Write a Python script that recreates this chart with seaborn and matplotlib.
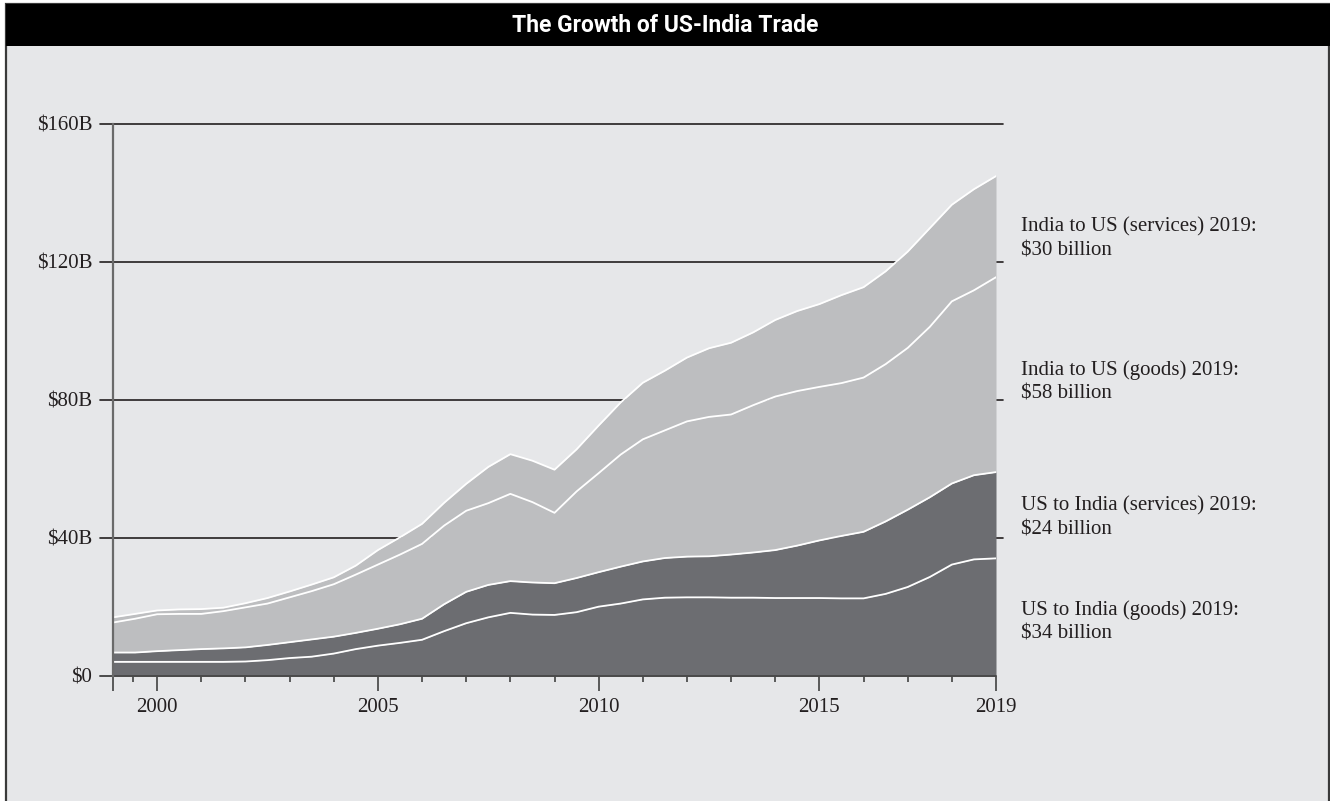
import numpy as np
import pandas as pd
import matplotlib
matplotlib.use("Agg")
import matplotlib.pyplot as plt
from matplotlib.patches import Rectangle
from matplotlib.ticker import FixedLocator
import seaborn as sns

# ---------------- data (billions of US$) ----------------
years = [1999.0, 1999.5, 2000.0, 2000.5, 2001.0, 2001.5, 2002.0, 2002.5, 2003.0, 2003.5,
         2004.0, 2004.5, 2005.0, 2005.5, 2006.0, 2006.5, 2007.0, 2007.5, 2008.0, 2008.5,
         2009.0, 2009.5, 2010.0, 2010.5, 2011.0, 2011.5, 2012.0, 2012.5, 2013.0, 2013.5,
         2014.0, 2014.5, 2015.0, 2015.5, 2016.0, 2016.5, 2017.0, 2017.5, 2018.0, 2018.5,
         2019.0]

us_to_india_goods = [4.1, 4.1, 4.1, 4.1, 4.1, 4.1, 4.2, 4.6, 5.2, 5.6,
                     6.5, 7.8, 8.8, 9.6, 10.5, 13.0, 15.3, 17.0, 18.3, 17.8,
                     17.7, 18.5, 20.1, 21.0, 22.2, 22.7, 22.8, 22.8, 22.7, 22.7,
                     22.6, 22.6, 22.6, 22.5, 22.5, 23.8, 25.8, 28.7, 32.3, 33.8,
                     34.1]

us_to_india_services = [2.7, 2.7, 3.1, 3.4, 3.7, 3.9, 4.1, 4.4, 4.6, 5.0,
                        4.9, 4.7, 4.9, 5.4, 6.1, 7.8, 9.1, 9.4, 9.2, 9.3,
                        9.2, 9.9, 10.0, 10.7, 11.0, 11.5, 11.8, 11.9, 12.5, 13.1,
                        13.9, 15.2, 16.7, 18.1, 19.3, 21.0, 22.4, 23.1, 23.5, 24.4,
                        25.0]

india_to_us_goods = [8.7, 9.8, 10.7, 10.5, 10.2, 10.8, 11.6, 12.0, 13.0, 14.0,
                     15.2, 16.9, 18.6, 20.2, 21.7, 22.8, 23.5, 23.7, 25.3, 23.3,
                     20.4, 25.1, 28.7, 32.5, 35.4, 37.0, 39.2, 40.4, 40.6, 42.7,
                     44.5, 44.8, 44.5, 44.3, 44.7, 45.6, 46.9, 49.4, 52.8, 53.6,
                     56.5]

india_to_us_services = [1.5, 1.4, 1.1, 1.3, 1.4, 1.0, 1.2, 1.6, 1.7, 1.9,
                        2.0, 2.6, 4.2, 5.0, 5.8, 6.6, 7.8, 10.5, 11.5, 12.0,
                        12.5, 12.2, 13.8, 15.1, 16.4, 17.3, 18.5, 19.9, 20.8, 21.1,
                        22.2, 23.2, 24.0, 25.5, 26.2, 26.9, 27.9, 28.6, 28.0, 29.3,
                        29.3]

series_labels = ["US to India (goods) 2019:\n$34 billion",
                 "US to India (services) 2019:\n$24 billion",
                 "India to US (goods) 2019:\n$58 billion",
                 "India to US (services) 2019:\n$30 billion"]

y_ticks = [0, 40, 80, 120, 160]
y_tick_labels = ["$0", "$40B", "$80B", "$120B", "$160B"]
x_major = [1999, 2000, 2005, 2010, 2015, 2019]
x_major_labels = ["", "2000", "2005", "2010", "2015", "2019"]
x_minor = [1999.45, 2001, 2002, 2003, 2004, 2006, 2007, 2008, 2009, 2011, 2012,
           2013, 2014, 2016, 2017, 2018]
title = "The Growth of US-India Trade"

# ---------------- style ----------------
BG = "#e6e7e9"
DARK = "#6c6d71"
LIGHT = "#bdbec0"
INK = "#231f20"

sns.set_style("white")
plt.rcParams["font.family"] = ["Liberation Serif", "DejaVu Serif"]

W, H = 1330, 801
fig = plt.figure(figsize=(W / 100, H / 100), dpi=100, facecolor="white")

# panel background with frame
fig.patches.append(Rectangle((6 / W, -0.01), 1 - 6 / W - 1.5 / W, 1.01 - 4 / H,
                             transform=fig.transFigure, facecolor=BG,
                             edgecolor="#3a3a3a", linewidth=1.6, zorder=-2))
# title bar
fig.patches.append(Rectangle((6 / W, 1 - 46 / H), 1 - 6 / W, 42 / H,
                             transform=fig.transFigure, facecolor="black",
                             edgecolor="none", zorder=-1))
fig.text(0.5, 1 - 25 / H, title, color="white", ha="center", va="center",
         fontsize=16.5, fontweight="bold", family=["Roboto", "DejaVu Sans"], zorder=2)

left, right, bottom, top = 113, 996, 676, 124
ax = fig.add_axes([left / W, 1 - bottom / H, (right - left) / W, (bottom - top) / H])
ax.set_facecolor("none")

# grid lines (behind areas), slightly extending past the axes
for v in y_ticks[1:]:
    ax.axhline(v, xmin=-0.015, xmax=1.008, color=INK, lw=1.2, clip_on=False, zorder=0.5)

ax.stackplot(years, us_to_india_goods, us_to_india_services, india_to_us_goods,
             india_to_us_services, colors=[DARK, DARK, LIGHT, LIGHT], lw=0, zorder=1)

stack = np.cumsum(np.array([us_to_india_goods, us_to_india_services,
                            india_to_us_goods, india_to_us_services]), axis=0)
for row in stack:
    sns.lineplot(x=years, y=row, ax=ax, color="white", lw=1.3, zorder=2)

ax.set_xlim(1999, 2019)
ax.set_ylim(0, 160)

# spines
for s in ["top", "right"]:
    ax.spines[s].set_visible(False)
ax.spines["left"].set_color("#6a6a6a")
ax.spines["left"].set_linewidth(1.6)
ax.spines["left"].set_zorder(3)
ax.spines["bottom"].set_visible(False)
ax.axhline(0, xmin=-0.015, xmax=1.0, color="#4a4a4a", lw=1.4, clip_on=False, zorder=3)

# ticks
ax.xaxis.set_major_locator(FixedLocator(x_major))
ax.set_xticklabels(x_major_labels)
ax.xaxis.set_minor_locator(FixedLocator(x_minor))
ax.tick_params(axis="x", which="major", length=10.5, width=1.1, color="#333333",
               pad=5, labelsize=15, labelcolor=INK, bottom=True)
ax.tick_params(axis="x", which="minor", length=4.5, width=1.1, color="#333333", bottom=True)
ax.set_yticks(y_ticks)
ax.set_yticklabels(y_tick_labels)
ax.tick_params(axis="y", length=0, pad=15, labelsize=15, labelcolor=INK)
ax.set_xlabel("")
ax.set_ylabel("")

# right-side labels
label_y_px = [622, 518, 382, 239]
for txt, ypx in zip(series_labels, label_y_px):
    fig.text(1021 / W, 1 - ypx / H, txt, ha="left", va="center", fontsize=15,
             color=INK, linespacing=1.35)

fig.savefig("out.png", dpi=100, facecolor="white")
